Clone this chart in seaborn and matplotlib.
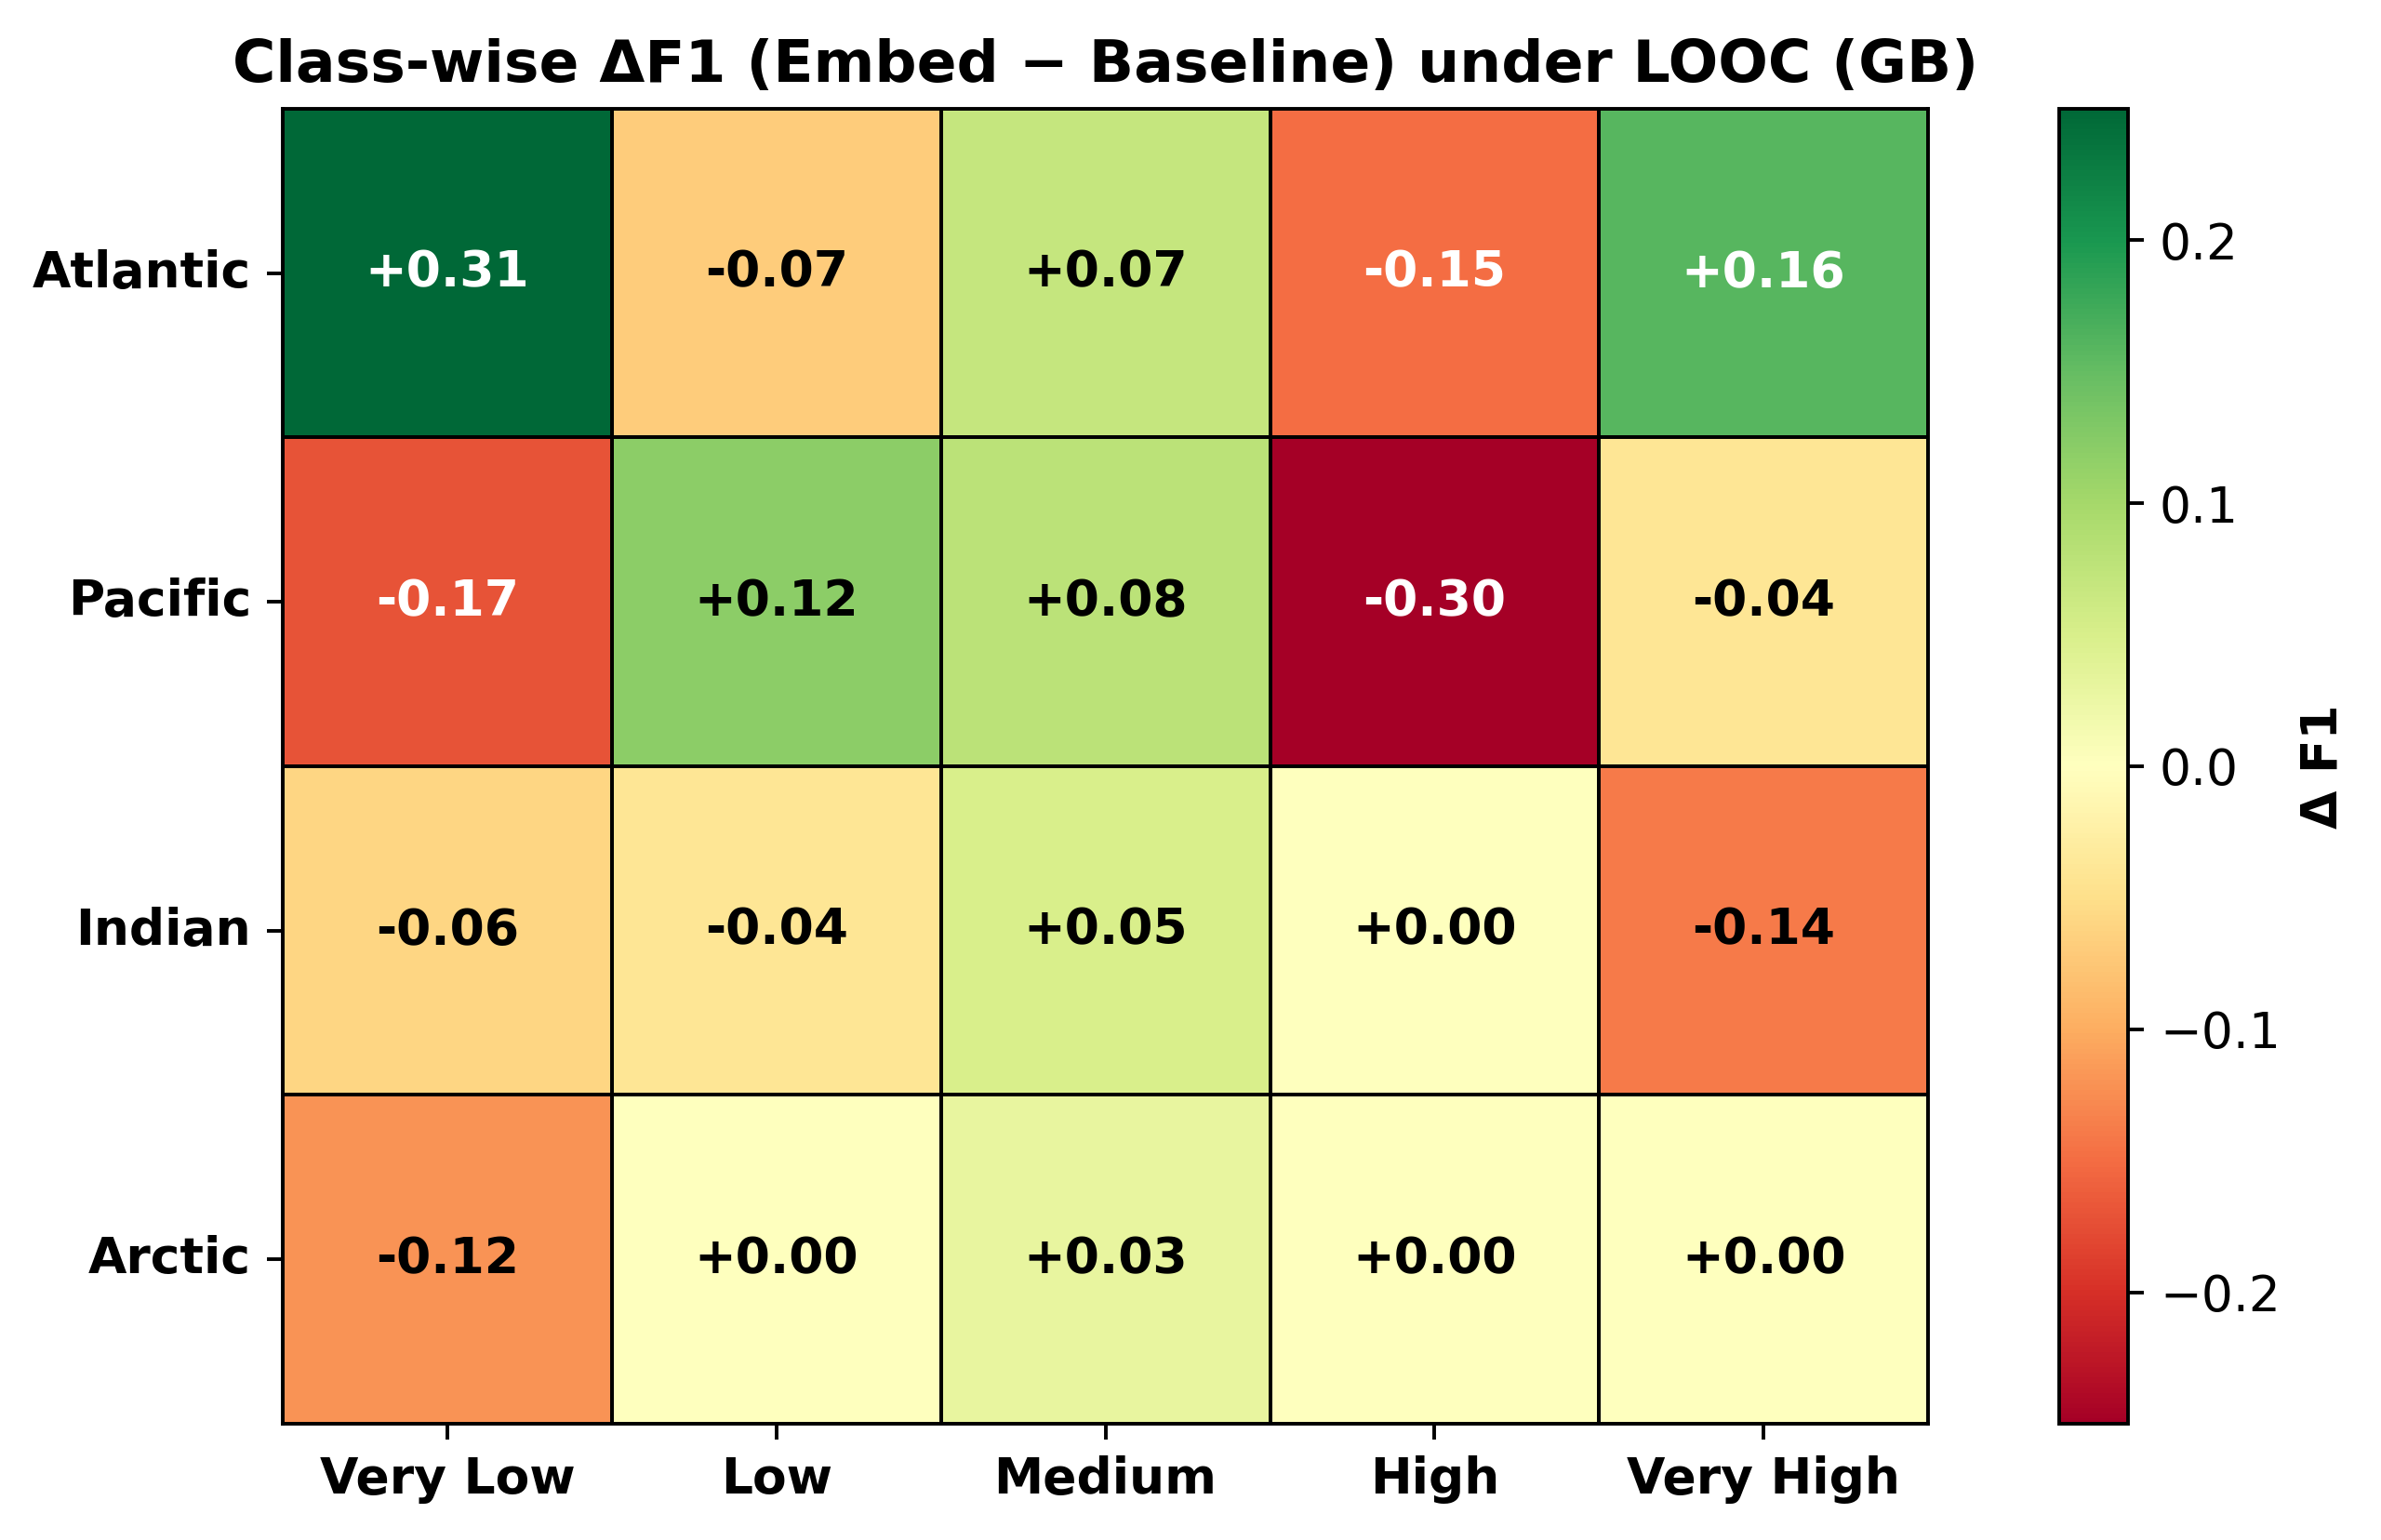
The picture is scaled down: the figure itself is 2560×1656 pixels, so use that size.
import matplotlib
matplotlib.use("Agg")
import matplotlib.pyplot as plt
import seaborn as sns
import pandas as pd
import numpy as np

# delta F1 (embed - baseline) per basin and class
basins = ["Atlantic", "Pacific", "Indian", "Arctic"]
classes = ["Very Low", "Low", "Medium", "High", "Very High"]
atlantic = [0.31, -0.07, 0.07, -0.15, 0.16]
pacific = [-0.17, 0.12, 0.08, -0.30, -0.04]
indian = [-0.06, -0.04, 0.05, 0.00, -0.14]
arctic = [-0.12, 0.00, 0.03, 0.00, 0.00]

delta = pd.DataFrame([atlantic, pacific, indian, arctic], index=basins, columns=classes)
labels = delta.map(lambda v: f"{v:+.2f}")

DPI = 350
fig = plt.figure(figsize=(2560 / DPI, 1656 / DPI), dpi=DPI)
ax = fig.add_axes([0.1188, 0.0755, 0.691, 0.8539])
cax = fig.add_axes([0.8648, 0.0755, 0.0289, 0.8539])

sns.heatmap(delta, ax=ax, cbar_ax=cax, cmap="RdYlGn", vmin=-0.25, vmax=0.25,
            annot=labels, fmt="", linewidths=0.5, linecolor="black",
            annot_kws={"fontsize": 11, "fontweight": "bold", "color": "black"})

# white text on the strong cells
for txt, v in zip(ax.texts, delta.values.flatten()):
    if abs(v) >= 0.15:
        txt.set_color("white")

for sp in ax.spines.values():
    sp.set_visible(True)
    sp.set_linewidth(0.8)
    sp.set_color("black")

ax.set_xlabel("")
ax.set_ylabel("")
ax.set_xticklabels(classes, rotation=0, fontsize=11, fontweight="bold")
ax.set_yticklabels(basins, rotation=0, fontsize=11, fontweight="bold")
ax.tick_params(length=3.5, width=0.8)
ax.set_title("Class-wise ΔF1 (Embed − Baseline) under LOOC (GB)", fontsize=13, fontweight="bold")

cbar = ax.collections[0].colorbar
cbar.outline.set_visible(True)
cbar.outline.set_linewidth(0.8)
cbar.outline.set_edgecolor("black")
cbar.ax.tick_params(labelsize=11, length=3.5, width=0.8)
cbar.set_label("Δ F1", fontsize=11, fontweight="bold")

plt.savefig("out.png", dpi=DPI)
plt.close()
